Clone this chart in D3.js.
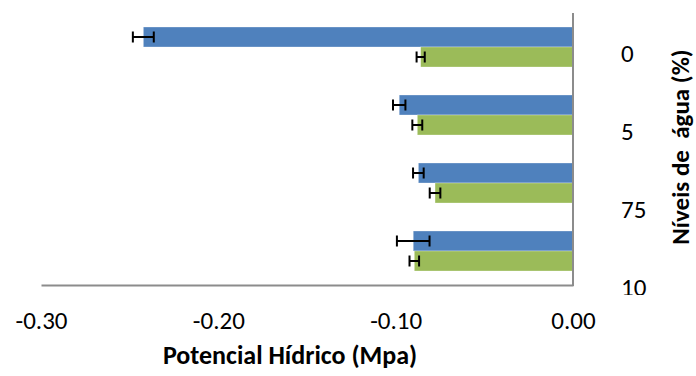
<!DOCTYPE html>
<html>
<head>
<meta charset="utf-8">
<script src="https://cdn.jsdelivr.net/npm/d3@7"></script>
<style>
  html, body { margin: 0; padding: 0; background: #fff; }
  svg { display: block; font-family: Carlito, Lato, "Open Sans", sans-serif; }
</style>
</head>
<body>
<svg id="chart" width="696" height="376"></svg>
<script>
const categories = ["0", "5", "75", "10"];
const seriesNames = ["s1", "s2"];
const series1 = [-0.2423, -0.0980, -0.0872, -0.0901];
const series1Err = [0.0059, 0.0035, 0.0030, 0.0092];
const series2 = [-0.0859, -0.0878, -0.0778, -0.0895];
const series2Err = [0.0023, 0.0028, 0.0030, 0.0027];
const xTicks = [-0.30, -0.20, -0.10, 0.00];
const colors = ["#4F81BD", "#9BBB59"];

const svg = d3.select("#chart");
const plotLeft = 41, plotRight = 573, plotTop = 13, plotBottom = 285;

const x = d3.scaleLinear().domain([-0.30, 0]).range([plotLeft, plotRight]);
const y0 = d3.scaleBand().domain(categories).range([plotTop, plotBottom]).padding(0);
const y1 = d3.scaleBand().domain(seriesNames).range([0, y0.bandwidth()]).paddingInner(0).paddingOuter(0.7);

const rows = [];
categories.forEach((c, i) => {
  rows.push({cat: c, s: "s1", v: series1[i], e: series1Err[i], col: colors[0]});
  rows.push({cat: c, s: "s2", v: series2[i], e: series2Err[i], col: colors[1]});
});

// bars
svg.append("g").selectAll("rect").data(rows).join("rect")
  .attr("x", d => x(d.v))
  .attr("y", d => y0(d.cat) + y1(d.s))
  .attr("width", d => x(0) - x(d.v))
  .attr("height", y1.bandwidth())
  .attr("fill", d => d.col)
  .attr("stroke", "#ffffff")
  .attr("stroke-opacity", 0.5)
  .attr("stroke-width", 0.6);

// error bars
const eb = svg.append("g").attr("stroke", "#000").attr("stroke-width", 2);
rows.forEach(d => {
  const cy = y0(d.cat) + y1(d.s) + y1.bandwidth() / 2;
  const x1 = x(d.v - d.e), x2 = x(d.v + d.e);
  const h = 5.5;
  eb.append("line").attr("x1", x1).attr("x2", x2).attr("y1", cy).attr("y2", cy);
  eb.append("line").attr("x1", x1).attr("x2", x1).attr("y1", cy - h).attr("y2", cy + h);
  eb.append("line").attr("x1", x2).attr("x2", x2).attr("y1", cy - h).attr("y2", cy + h);
});

// axes
const xAxis = d3.axisBottom(x).tickValues(xTicks).tickFormat(d => d.toFixed(2)).tickSize(0).tickPadding(26);
const gx = svg.append("g").attr("transform", `translate(0,${plotBottom})`).call(xAxis);
gx.select(".domain").attr("stroke", "#8c8c8c").attr("stroke-width", 2);
gx.selectAll("text").attr("font-size", 25).attr("fill", "#000").attr("font-family", "Carlito, Lato, 'Open Sans', sans-serif");

svg.append("line").attr("x1", plotRight).attr("x2", plotRight).attr("y1", plotTop).attr("y2", plotBottom + 1)
  .attr("stroke", "#8c8c8c").attr("stroke-width", 2);

// category labels (right side)
svg.append("defs").append("clipPath").attr("id", "clipLab")
  .append("rect").attr("x", 590).attr("y", 0).attr("width", 80).attr("height", 295);
const yLab = d3.scalePoint().domain(categories).range([53, 287]);
svg.append("g").attr("clip-path", "url(#clipLab)")
  .selectAll("text").data(categories).join("text")
  .attr("x", 621)
  .attr("y", d => yLab(d))
  .attr("dy", "0.36em")
  .attr("font-size", 25)
  .attr("fill", "#000")
  .text(d => d);

// axis titles
svg.append("text")
  .attr("x", 290).attr("y", 364)
  .attr("text-anchor", "middle").attr("font-weight", "bold").attr("font-size", 26)
  .text("Potencial Hídrico (Mpa)");

svg.append("text")
  .attr("transform", "translate(689,147) rotate(-90)")
  .attr("text-anchor", "middle").attr("font-weight", "bold").attr("font-size", 25)
  .attr("xml:space", "preserve").style("white-space", "pre")
  .text("Níveis de\u00a0 água (%)");
</script>
</body>
</html>
